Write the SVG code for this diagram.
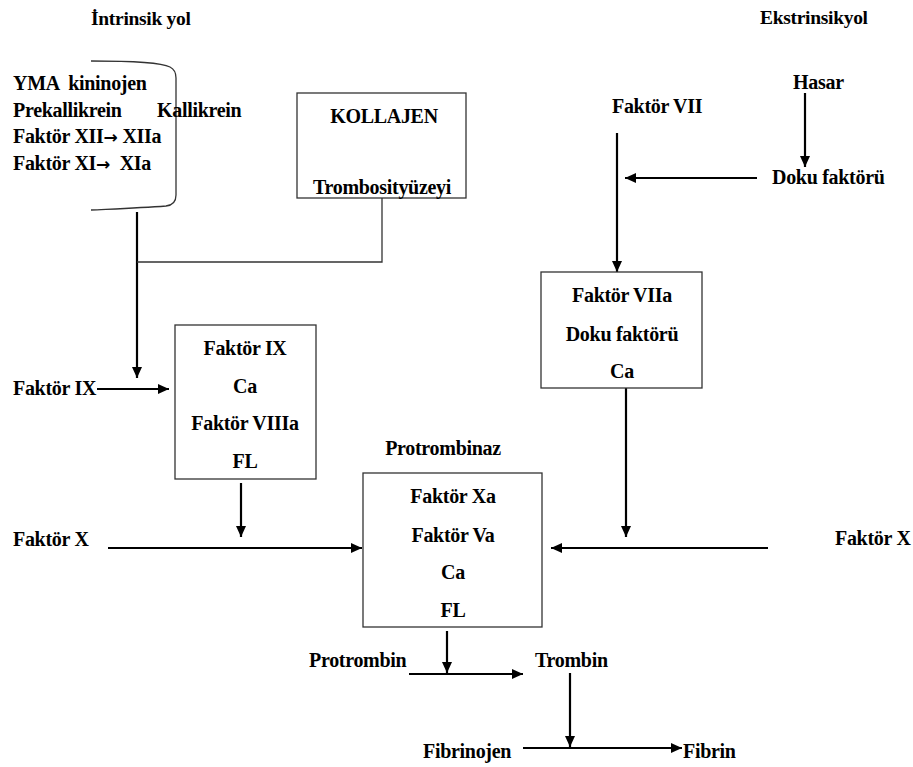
<svg xmlns="http://www.w3.org/2000/svg" width="913" height="767" viewBox="0 0 913 767">
<style>
text{font-family:"Liberation Serif","Times New Roman",serif;font-weight:bold;font-size:20px;letter-spacing:-0.3px;fill:#000}
.title{font-size:19.5px}
.c{text-anchor:middle}
.pre{white-space:pre}
.sym{font-family:"DejaVu Sans",sans-serif;font-size:17px;letter-spacing:0}
.box{fill:#fff;stroke:#333;stroke-width:1.3}
.thin{fill:none;stroke:#333;stroke-width:1.3}
.arr{fill:none;stroke:#000;stroke-width:2.2;marker-end:url(#ah)}
</style>
<defs>
<marker id="ah" markerUnits="userSpaceOnUse" markerWidth="12" markerHeight="10" refX="11" refY="5" orient="auto">
<path d="M0,0 L11,5 L0,10 Z" fill="#000"/>
</marker>
</defs>
<rect width="913" height="767" fill="#fff"/>
<g id="connectors">
<path class="arr" d="M137,212 V378"/>
<path class="thin" d="M382,198 V262 H137"/>
<path class="arr" d="M97,389 H169"/>
<path class="arr" d="M241,483 V537"/>
<path class="arr" d="M108,548 H362"/>
<path class="arr" d="M768,548 H551"/>
<path class="arr" d="M626,388 V537"/>
<path class="arr" d="M805,93 V167"/>
<path class="arr" d="M757,178 H625"/>
<path class="arr" d="M617,133 V272"/>
<path class="arr" d="M447,631 V673"/>
<path class="arr" d="M409,674 H523"/>
<path class="arr" d="M570,673 V747"/>
<path class="arr" d="M523,748 H682"/>
</g>
<g id="title-intrinsik"><text class="title" x="91" y="25">İntrinsik yol</text></g>
<g id="title-ekstrinsik"><text class="title" x="760" y="24">Ekstrinsikyol</text></g>
<g id="intrinsic-bracket">
<path class="thin" d="M91,61 C130,61 160,62 170,67 Q176,70 176,78 V195 Q176,205 166,206 C140,208 112,209 91,210"/>
<text class="pre" x="13" y="90">YMA  kininojen</text>
<text x="13" y="117">Prekallikrein</text>
<text x="157" y="117">Kallikrein</text>
<text class="pre" x="13" y="143">Faktör XII<tspan class="sym">→</tspan> XIIa</text>
<text class="pre" x="13" y="170">Faktör XI<tspan class="sym">→</tspan>  XIa</text>
</g>
<g id="kollajen">
<rect class="box" x="297" y="93" width="169" height="105"/>
<text class="c" x="384" y="123">KOLLAJEN</text>
<text class="c" x="382" y="194">Trombosityüzeyi</text>
</g>
<g id="faktor-vii"><text x="612" y="113">Faktör VII</text></g>
<g id="hasar"><text x="793" y="89">Hasar</text></g>
<g id="doku-faktoru"><text x="772" y="184">Doku faktörü</text></g>
<g id="faktor-ix-in"><text x="13" y="395">Faktör IX</text></g>
<g id="tenaz">
<rect class="box" x="175" y="325" width="141" height="154"/>
<text class="c" x="245" y="355">Faktör IX</text>
<text class="c" x="245" y="393">Ca</text>
<text class="c" x="245" y="430">Faktör VIIIa</text>
<text class="c" x="245" y="468">FL</text>
</g>
<g id="viia-complex">
<rect class="box" x="541" y="272" width="161" height="116"/>
<text class="c" x="622" y="302">Faktör VIIa</text>
<text class="c" x="622" y="341">Doku faktörü</text>
<text class="c" x="622" y="378">Ca</text>
</g>
<g id="faktor-x-left"><text x="13" y="546">Faktör X</text></g>
<g id="faktor-x-right"><text x="835" y="545">Faktör X</text></g>
<g id="protrombinaz">
<text class="c" x="443" y="455">Protrombinaz</text>
<rect class="box" x="363" y="473" width="179" height="154"/>
<text class="c" x="453" y="503">Faktör Xa</text>
<text class="c" x="453" y="542">Faktör Va</text>
<text class="c" x="453" y="579">Ca</text>
<text class="c" x="453" y="617">FL</text>
</g>
<g id="protrombin"><text x="309" y="667">Protrombin</text></g>
<g id="trombin"><text x="535" y="667">Trombin</text></g>
<g id="fibrinojen"><text x="423" y="758">Fibrinojen</text></g>
<g id="fibrin"><text x="683" y="758">Fibrin</text></g>
</svg>
